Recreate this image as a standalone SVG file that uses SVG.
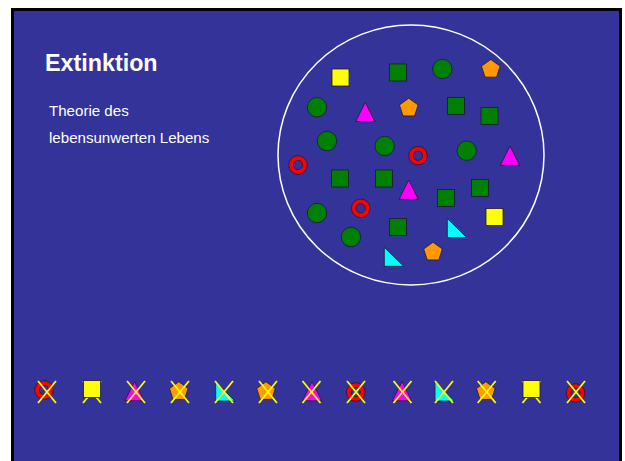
<svg xmlns="http://www.w3.org/2000/svg" xmlns:xlink="http://www.w3.org/1999/xlink" width="625" height="461" viewBox="0 0 625 461">
<style>
.sh{stroke:#1a1a33;stroke-width:0.8}
.g{fill:#008000}.y{fill:#ffff00}.o{fill:#ff9900}.m{fill:#ff00ff}.c{fill:#00ffff}.r{fill:#ff0000}.hole{fill:#333399}
.x line{stroke:#ffff00;stroke-width:1.8}
.t{fill:#ffffff;font-family:"Liberation Sans",Arial,sans-serif}
</style>
<defs>
<rect id="sq" x="0" y="0" width="17" height="17"/>
<circle id="ci" cx="0" cy="0" r="9.7"/>
<polygon id="pe" points="0,-9.8 9.32,-3.03 5.76,7.93 -5.76,7.93 -9.32,-3.03"/>
<polygon id="tr" points="0,0 9.6,19.3 -9.6,19.3"/>
<polygon id="rt" points="0,0 0,19 19.4,19"/>
<g id="ring"><circle class="r sh" cx="0" cy="0" r="9.3"/><circle class="hole sh" cx="0" cy="0" r="4.6"/></g>
<g id="cross" class="x"><line x1="-9" y1="-11" x2="9" y2="11"/><line x1="9" y1="-11" x2="-9" y2="11"/></g>
</defs>
<rect x="12.5" y="9.5" width="608" height="460" fill="#333399" stroke="#000000" stroke-width="3"/>
<g id="title">
<text class="t" x="45" y="71" font-size="23.3" font-weight="bold">Extinktion</text>
<text class="t" x="49" y="116" font-size="15.1">Theorie des</text>
<text class="t" x="49" y="142.5" font-size="15.1">lebensunwerten Lebens</text>
</g>
<g id="population">
<ellipse cx="411" cy="155" rx="133" ry="130" fill="none" stroke="#ffffff" stroke-width="1.5"/>
<use href="#sq" x="332" y="69" class="y sh"/>
<use href="#sq" x="389.5" y="64" class="g sh"/>
<use href="#sq" x="447.5" y="97.5" class="g sh"/>
<use href="#sq" x="481" y="107.5" class="g sh"/>
<use href="#sq" x="331.5" y="170" class="g sh"/>
<use href="#sq" x="375.5" y="170" class="g sh"/>
<use href="#sq" x="437.5" y="189.5" class="g sh"/>
<use href="#sq" x="471.5" y="179.5" class="g sh"/>
<use href="#sq" x="389.5" y="218.5" class="g sh"/>
<use href="#sq" x="486" y="208.5" class="y sh"/>
<use href="#ci" x="442.3" y="69" class="g sh"/>
<use href="#ci" x="317" y="107.3" class="g sh"/>
<use href="#ci" x="327" y="141" class="g sh"/>
<use href="#ci" x="384.7" y="146" class="g sh"/>
<use href="#ci" x="466.7" y="150.7" class="g sh"/>
<use href="#ci" x="317" y="213" class="g sh"/>
<use href="#ci" x="351" y="237" class="g sh"/>
<use href="#ring" x="298" y="165"/>
<use href="#ring" x="418" y="155.7"/>
<use href="#ring" x="360.7" y="208.3"/>
<use href="#tr" x="365.3" y="102.3" class="m sh"/>
<use href="#tr" x="510" y="146" class="m sh"/>
<use href="#tr" x="408.7" y="180" class="m sh"/>
<use href="#pe" x="490.8" y="69.2" class="o sh"/>
<use href="#pe" x="408.8" y="108" class="o sh"/>
<use href="#pe" x="433" y="252" class="o sh"/>
<use href="#rt" x="447.3" y="218.5" class="c sh"/>
<use href="#rt" x="384.3" y="247.3" class="c sh"/>
</g>
<g id="extinct">
<g id="e1"><use href="#ring" x="44" y="390"/><use href="#cross" x="47" y="392"/></g>
<g id="e2"><use href="#cross" x="92" y="392"/><use href="#sq" x="83.5" y="380.5" class="y sh"/></g>
<g id="e3"><use href="#tr" x="134.5" y="381.5" class="m sh"/><use href="#cross" x="136" y="392"/></g>
<g id="e4"><use href="#pe" x="178.8" y="391.5" class="o sh"/><use href="#cross" x="180" y="392"/></g>
<g id="e5"><use href="#rt" x="215.7" y="382" class="c sh"/><use href="#cross" x="224" y="392"/></g>
<g id="e6"><use href="#pe" x="266" y="391.5" class="o sh"/><use href="#cross" x="268" y="392"/></g>
<g id="e7"><use href="#tr" x="312" y="381.5" class="m sh"/><use href="#cross" x="311.5" y="392"/></g>
<g id="e8"><use href="#ring" x="355.7" y="392"/><use href="#cross" x="356" y="392"/></g>
<g id="e9"><use href="#tr" x="402" y="381.5" class="m sh"/><use href="#cross" x="402.5" y="392"/></g>
<g id="e10"><use href="#rt" x="435" y="382" class="c sh"/><use href="#cross" x="444" y="392"/></g>
<g id="e11"><use href="#pe" x="485.8" y="391.5" class="o sh"/><use href="#cross" x="486.7" y="392"/></g>
<g id="e12"><use href="#cross" x="531.5" y="392"/><use href="#sq" x="523" y="380.5" class="y sh"/></g>
<g id="e13"><use href="#ring" x="575.5" y="393"/><use href="#cross" x="576" y="392"/></g>
</g>
</svg>
